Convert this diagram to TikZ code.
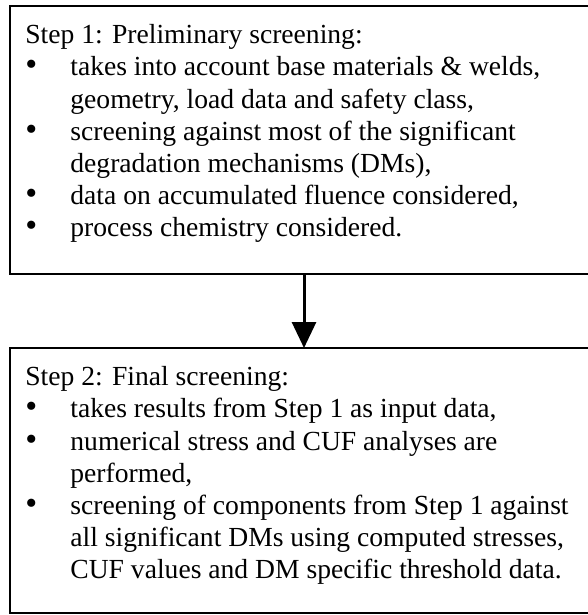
\documentclass[tikz,border=0pt]{standalone}
\usepackage{fontspec}
\setmainfont{Liberation Serif}
\usepackage{tikz}
\usetikzlibrary{positioning,arrows.meta}
\tikzset{stepbox/.style={rectangle,draw,line width=1.4pt,outer sep=0pt,minimum width=300pt,inner sep=0pt},
  steptext/.style={inner sep=0pt,align=left,font=\fontsize{13.8}{16.1}\selectfont}}
\newcommand{\bul}{\makebox[22.5pt][l]{\fontsize{17}{17}\selectfont\textbullet}}
\newcommand{\cont}{\hspace*{22.5pt}}

\begin{document}
\begin{tikzpicture}[>={Triangle[width=12pt,length=13pt]}]
    \useasboundingbox (0,0) rectangle (294pt,-307.5pt);
    \clip (0,0) rectangle (294pt,-307.5pt);

    \node[stepbox,minimum height=134pt,anchor=north west] (s1) at (5pt,-3pt) {};
    \node[stepbox,minimum height=132.5pt,below=37pt of s1] (s2) {};

    \node[steptext,below right=9.1pt and 7.5pt of s1.north west] (t1) {%
      Step 1: Preliminary screening:\\
      \bul takes into account base materials \& welds,\\
      \cont geometry, load data and safety class,\\
      \bul screening against most of the significant\\
      \cont degradation mechanisms (DMs),\\
      \bul data on accumulated fluence considered,\\
      \bul process chemistry considered.};
    \node[steptext,below right=9.1pt and 7.5pt of s2.north west] (t2) {%
      Step 2: Final screening:\\
      \bul takes results from Step 1 as input data,\\
      \bul numerical stress and CUF analyses are\\
      \cont performed,\\
      \bul screening of components from Step 1 against\\
      \cont all significant DMs using computed stresses,\\
      \cont CUF values and DM specific threshold data.};

    \draw [->,line width=1.5pt] ([xshift=-3pt]s1.south) -- ([xshift=-3pt]s2.north);
\end{tikzpicture}
\end{document}
